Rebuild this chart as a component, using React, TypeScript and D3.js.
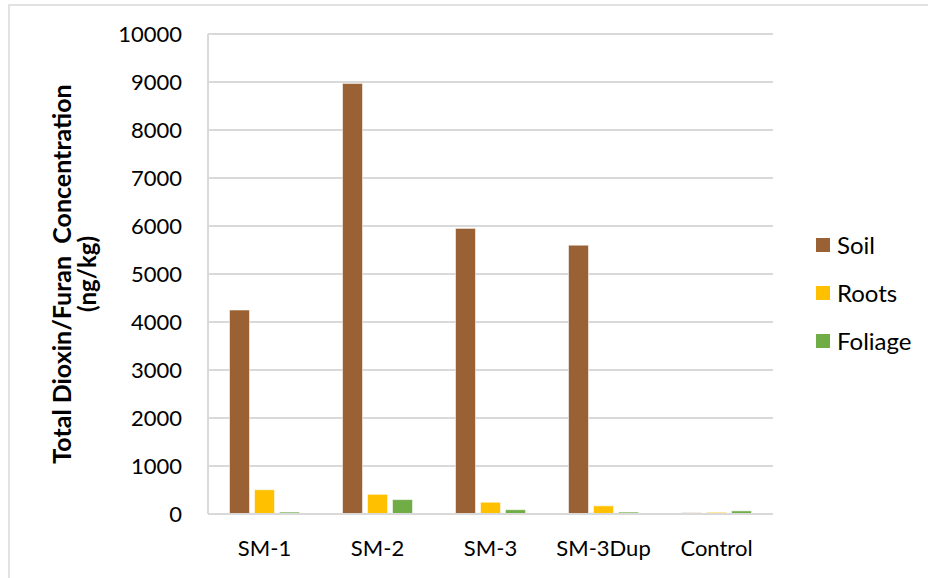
import React from "react";
import * as d3 from "d3";

const categories = ["SM-1", "SM-2", "SM-3", "SM-3Dup", "Control"];
const seriesNames = ["Soil", "Roots", "Foliage"];
const soil = [4250, 8970, 5950, 5600, 25];
const roots = [505, 410, 245, 170, 35];
const foliage = [40, 300, 90, 40, 65];
const yTicks = [0, 1000, 2000, 3000, 4000, 5000, 6000, 7000, 8000, 9000, 10000];
const colors = ["#9A6234", "#FFC000", "#70AD47"];

const W = 928;
const H = 578;
const FONT = "Lato, 'Open Sans', sans-serif";

export default function App() {
  const series = [soil, roots, foliage];
  const left = 208, right = 773, top = 34, bottom = 514;
  const x = d3.scaleBand<string>().domain(categories).range([left, right]).paddingInner(0).paddingOuter(0);
  const y = d3.scaleLinear().domain([0, 10000]).range([bottom, top]);
  const barW = 20;
  const barGap = 5;
  const groupW = barW * 3 + barGap * 2;

  return (
    <svg width={W} height={H} style={{ position: "absolute", left: 0, top: 0, display: "block", background: "#fff" }}>
      <rect x={9} y={5} width={W + 20} height={H + 20} fill="#fff" stroke="#d9d9d9" strokeWidth={1.5} />
      {yTicks.map((t) => (
        <g key={t}>
          {t > 0 && <line x1={left} x2={right} y1={y(t)} y2={y(t)} stroke="#d9d9d9" strokeWidth={2} />}
          <text x={182} y={y(t)} dy="0.36em" textAnchor="end" fontFamily={FONT} fontSize={22} fill="#000">
            {t}
          </text>
        </g>
      ))}
      <line x1={left} x2={left} y1={top} y2={bottom} stroke="#d9d9d9" strokeWidth={2} />
      {categories.map((c, i) => {
        const cx = (x(c) as number) + x.bandwidth() / 2;
        const x0 = cx - groupW / 2;
        return (
          <g key={c}>
            {series.map((s, j) => (
              <rect
                key={j}
                x={x0 + j * (barW + barGap)}
                y={y(s[i])}
                width={barW}
                height={bottom - y(s[i])}
                fill={colors[j]}
                stroke="rgba(255,255,255,0.55)"
                strokeWidth={1}
              />
            ))}
            <text x={cx} y={556} textAnchor="middle" fontFamily={FONT} fontSize={22} fill="#000">
              {c}
            </text>
          </g>
        );
      })}
      <line x1={left} x2={right} y1={bottom} y2={bottom} stroke="#d9d9d9" strokeWidth={2} />
      <g transform={`translate(71, ${(top + bottom) / 2}) rotate(-90)`}>
        <text x={0} y={0} textAnchor="middle" fontFamily={FONT} fontSize={25} fontWeight="bold" fill="#000" style={{ whiteSpace: "pre" }}>
          {"Total Dioxin/Furan  Concentration"}
        </text>
        <text x={0} y={25} textAnchor="middle" fontFamily={FONT} fontSize={24} fontWeight="bold" fill="#000">
          (ng/kg)
        </text>
      </g>
      {seriesNames.map((n, j) => (
        <g key={n} transform={`translate(816, ${238 + j * 48})`}>
          <rect x={0} y={0} width={14} height={14} fill={colors[j]} />
          <text x={21} y={7} dy="0.36em" fontFamily={FONT} fontSize={24} fill="#000">
            {n}
          </text>
        </g>
      ))}
    </svg>
  );
}
